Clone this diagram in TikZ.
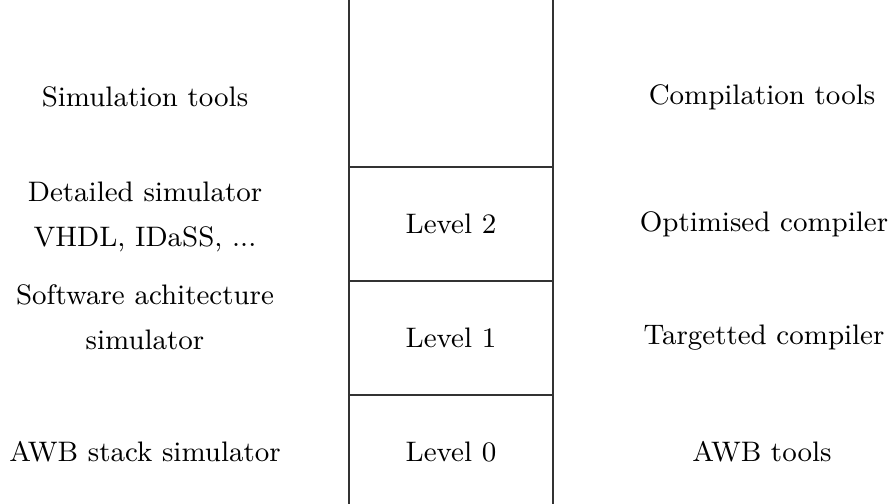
\documentclass[tikz,border=0pt]{standalone}
\usetikzlibrary{positioning}

\begin{document}
\begin{tikzpicture}[
    x=0.3333pt, y=-0.3333pt,
    font=\fontsize{9.4}{11.5}\selectfont,
    node distance=0pt,
    level/.style={
        draw=black!80,
        line width=0.4pt,
        minimum width=68pt,
        minimum height=38pt,
        outer sep=0pt,
        inner sep=0pt
    },
    tool/.style={
        align=center,
        inner sep=2pt
    },
    rule/.style={line width=0.4pt, draw=black!80}
]
\useasboundingbox (0,0) rectangle (891,504);

% the stack of levels
\node[level] (lvltwo) at (451,224) {Level 2};
\node[level, below=of lvltwo] (lvlone) {Level 1};
\node[level, below=of lvlone] (lvlzero) {Level 0};

\coordinate (topl) at (lvltwo.north west |- 0,0);
\coordinate (topr) at (lvltwo.north east |- 0,0);
\coordinate (botl) at (lvlzero.south west |- 0,504);
\coordinate (botr) at (lvlzero.south east |- 0,504);

\draw[rule] (lvltwo.north west) -- (topl);
\draw[rule] (lvltwo.north east) -- (topr);
\draw[rule] (lvlzero.south west) -- (botl);
\draw[rule] (lvlzero.south east) -- (botr);

% simulation side
\node[tool] (simtools) at (145,97) {Simulation tools};
\node[tool] (detsim) at (145,217) {Detailed simulator\\[3.5pt] VHDL, IDaSS, ...};
\node[tool] (swsim) at (145,317) {Software achitecture\\[3.5pt] simulator};
\node[tool] (awbsim) at (145,452) {AWB stack simulator};

% compilation side
\node[tool] (comptools) at (762,97) {Compilation tools};
\node[tool] (optcomp) at (764,224) {Optimised compiler};
\node[tool] (tgtcomp) at (764,338) {Targetted compiler};
\node[tool] (awbtools) at (762,452) {AWB tools};

\end{tikzpicture}
\end{document}
